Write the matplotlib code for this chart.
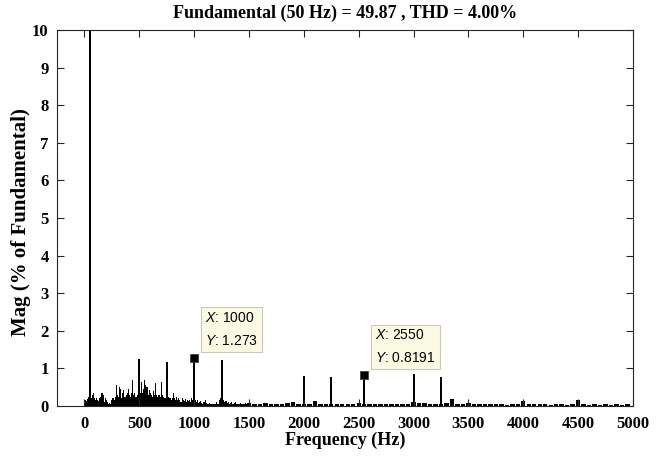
import numpy as np
import matplotlib
matplotlib.use("Agg")
import matplotlib.pyplot as plt

plt.rcParams["mathtext.fontset"] = "custom"
plt.rcParams["mathtext.it"] = "Liberation Sans:italic"
plt.rcParams["mathtext.rm"] = "Liberation Sans"

# Harmonic spectrum (magnitude in % of fundamental)
peak_freqs = [50, 500, 750, 1000, 1250, 2000, 2250, 2550, 3000, 3250]
peak_mags = [100.0, 1.24, 1.17, 1.273, 1.23, 0.80, 0.78, 0.8191, 0.84, 0.76]

# Low-frequency noise floor, 10 Hz bins from 0 to 1490 Hz
low_floor_freqs = np.arange(0, 1500, 10)
low_floor_mags = [
    0.10, 0.15, 0.12, 0.18, 0.25, 0.30, 0.22, 0.30, 0.35, 0.20,
    0.15, 0.20, 0.15, 0.12, 0.20, 0.25, 0.35, 0.30, 0.10, 0.20,
    0.15, 0.10, 0.05, 0.08, 0.06, 0.15, 0.20, 0.15, 0.25, 0.55,
    0.30, 0.25, 0.50, 0.45, 0.20, 0.35, 0.42, 0.25, 0.30, 0.35,
    0.44, 0.30, 0.25, 0.35, 0.69, 0.30, 0.35, 0.25, 0.30, 0.40,
    0.35, 0.35, 0.63, 0.35, 0.45, 0.69, 0.55, 0.50, 0.30, 0.42,
    0.35, 0.30, 0.25, 0.40, 0.30, 0.62, 0.30, 0.25, 0.30, 0.25,
    0.65, 0.30, 0.25, 0.20, 0.20, 0.25, 0.20, 0.25, 0.20, 0.15,
    0.20, 0.35, 0.20, 0.15, 0.25, 0.15, 0.20, 0.15, 0.10, 0.20,
    0.15, 0.12, 0.18, 0.10, 0.15, 0.12, 0.15, 0.10, 0.20, 0.15,
    0.15, 0.15, 0.10, 0.15, 0.08, 0.10, 0.12, 0.08, 0.06, 0.10,
    0.15, 0.08, 0.06, 0.05, 0.07, 0.05, 0.04, 0.06, 0.05, 0.04,
    0.10, 0.06, 0.05, 0.15, 0.20, 0.20, 0.20, 0.15, 0.10, 0.12,
    0.08, 0.10, 0.06, 0.08, 0.10, 0.06, 0.05, 0.08, 0.10, 0.06,
    0.05, 0.06, 0.08, 0.05, 0.04, 0.06, 0.05, 0.07, 0.04, 0.05,
]

# High-frequency noise floor, 50 Hz bins from 1500 to 4950 Hz
high_floor_freqs = np.arange(1500, 5000, 50)
high_floor_mags = [
    0.08, 0.06, 0.05, 0.07, 0.05, 0.06, 0.04, 0.08, 0.10, 0.06,
    0.05, 0.06, 0.13, 0.06, 0.05, 0.06, 0.04, 0.05, 0.06, 0.04,
    0.08, 0.06, 0.05, 0.04, 0.05, 0.04, 0.05, 0.06, 0.04, 0.05,
    0.10, 0.08, 0.07, 0.06, 0.05, 0.06, 0.08, 0.18, 0.06, 0.05,
    0.09, 0.05, 0.04, 0.06, 0.05, 0.04, 0.05, 0.03, 0.04, 0.05,
    0.12, 0.05, 0.04, 0.06, 0.04, 0.03, 0.05, 0.04, 0.03, 0.04,
    0.16, 0.05, 0.03, 0.04, 0.03, 0.04, 0.03, 0.04, 0.03, 0.04,
]

x_ticks = list(range(0, 5001, 500))
y_ticks = list(range(0, 11))

fig = plt.figure(figsize=(6.62, 4.61), dpi=100)
ax = fig.add_axes([57 / 662, 1 - 406 / 461, (633 - 57) / 662, (406 - 30) / 461])

ax.bar(low_floor_freqs, low_floor_mags, width=10, color="black", linewidth=0)
ax.bar(high_floor_freqs, high_floor_mags, width=40, color="black", linewidth=0)
ax.bar(peak_freqs, peak_mags, width=18, color="black", linewidth=0)

ax.set_xlim(-250, 5000)
ax.set_ylim(0, 10)
ax.set_xticks(x_ticks)
ax.set_yticks(y_ticks)

serif_bold = dict(family="Liberation Serif", weight="bold")
ax.set_xticklabels([str(t) for t in x_ticks], fontsize=12, **serif_bold)
ax.set_yticklabels([str(t) for t in y_ticks], fontsize=12, **serif_bold)
ax.tick_params(axis="x", pad=7)
ax.tick_params(axis="y", pad=6)
ax.tick_params(direction="in", length=5, width=0.8, top=True, right=True,
               color="#262626")
for sp in ax.spines.values():
    sp.set_color("#262626")
    sp.set_linewidth(0.8)

ax.set_xlabel("Frequency (Hz)", fontsize=13, labelpad=0, **serif_bold)
ax.set_ylabel("Mag (% of Fundamental)", fontsize=15, **serif_bold)
ax.yaxis.set_label_coords(-0.045, 0.49)
ax.set_title("Fundamental (50 Hz) = 49.87 , THD = 4.00%", fontsize=13,
             pad=9, **serif_bold)

# Data tips
tips = [(1000, 1.273, "1000", "1.273"), (2550, 0.8191, "2550", "0.8191")]
for fx, fy, xs, ys in tips:
    ax.plot([fx], [fy], marker="s", markersize=6, color="black",
            markeredgecolor="#404040", markeredgewidth=0.6, zorder=5)
    ax.annotate(f"$\\mathit{{X}}$: {xs}\n$\\mathit{{Y}}$: {ys}",
                xy=(fx, fy), xytext=(11, 10), textcoords="offset pixels",
                ha="left", va="bottom", fontsize=10,
                family="Liberation Sans", linespacing=1.8,
                bbox=dict(boxstyle="square,pad=0.28", facecolor="#fbfbe3",
                          edgecolor="#c9c9b5", linewidth=0.8),
                zorder=6)

fig.savefig("out.png", dpi=100)
